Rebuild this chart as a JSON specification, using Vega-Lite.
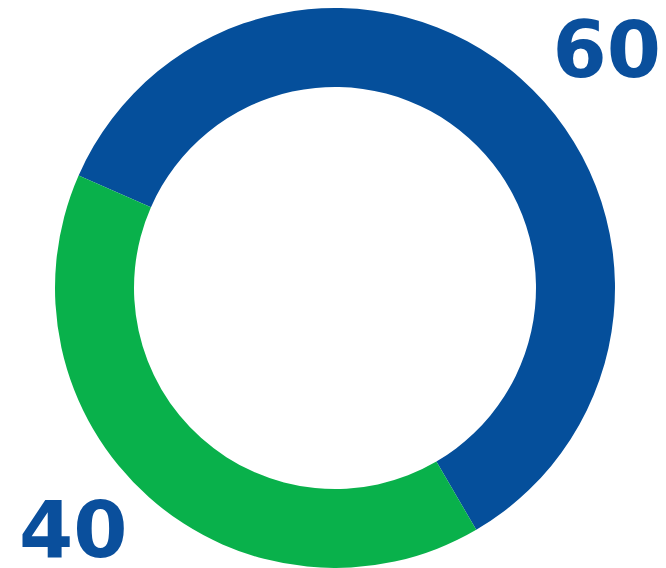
{
  "$schema": "https://vega.github.io/schema/vega-lite/v6.json",
  "autosize": {"type": "fit", "contains": "padding"},
  "width": 666,
  "height": 568,
  "padding": {"left": 4, "top": 10, "right": 0, "bottom": 0},
  "background": "white",
  "view": {"stroke": null},
  "data": {"values": [
    {"group": "A", "value": 60, "label": "60", "rank": 1},
    {"group": "B", "value": 40, "label": "40", "rank": 2}
  ]},
  "encoding": {
    "theta": {"field": "value", "type": "quantitative", "stack": true,
      "scale": {"type": "linear", "domain": [0, 100], "range": [-1.157, 5.126]}},
    "order": {"field": "rank", "type": "quantitative"}
  },
  "layer": [
    {
      "mark": {"type": "arc", "radius": 280, "radius2": 201, "stroke": null},
      "encoding": {
        "color": {"field": "group", "type": "nominal",
          "scale": {"domain": ["A", "B"], "range": ["#054f9b", "#09b14b"]},
          "legend": null}
      }
    },
    {
      "mark": {"type": "text", "radius": 359, "thetaOffset": 0.11, "dx": 5, "dy": 6, "font": "DejaVu Sans", "fontWeight": "bold", "fontSize": 78, "color": "#0a4f9c", "align": "center", "baseline": "middle"},
      "encoding": {
        "text": {"field": "label", "type": "nominal"}
      }
    }
  ]
}
